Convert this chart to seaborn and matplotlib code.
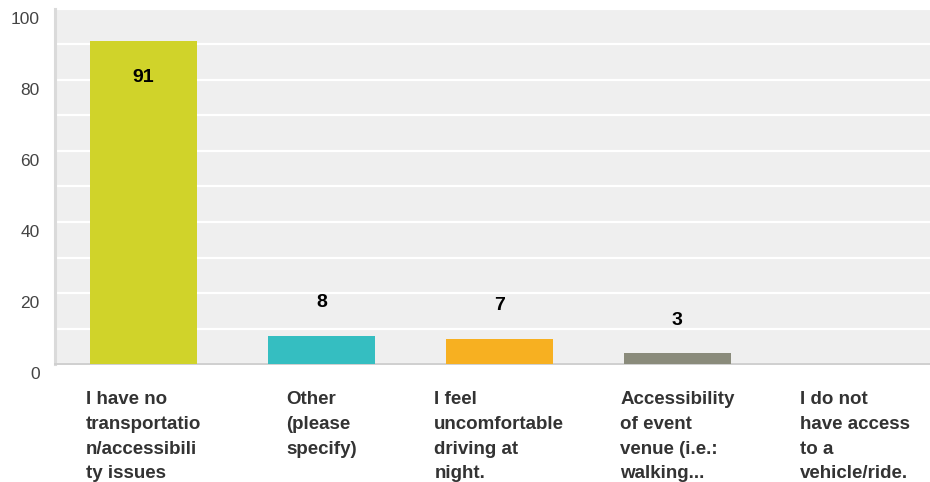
import matplotlib
matplotlib.use("Agg")
import matplotlib.pyplot as plt
import matplotlib.transforms as mtransforms
import seaborn as sns
import pandas as pd

# -------------------------
# Data
# -------------------------
categories = [
    "I have no\ntransportatio\nn/accessibili\nty issues",
    "Other\n(please\nspecify)",
    "I feel\nuncomfortable\ndriving at\nnight.",
    "Accessibility\nof event\nvenue (i.e.:\nwalking...",
    "I do not\nhave access\nto a\nvehicle/ride.",
]
values = [91, 8, 7, 3, 0]
colors = ["#d0d32a", "#35bec1", "#f7b021", "#8a8b7b", "#9a9a9a"]
y_ticks = [0, 20, 40, 60, 80, 100]

df = pd.DataFrame({"category": categories, "value": values})

sns.set_theme(style="white")
plt.rcParams["font.family"] = ["Liberation Sans", "DejaVu Sans"]

fig = plt.figure(figsize=(9.3, 4.82), dpi=100)
ax = fig.add_axes([55 / 930, 118 / 482, 1 - 55 / 930, 355 / 482])
ax.set_facecolor("#efefef")

sns.barplot(data=df, x="category", y="value", hue="category", palette=colors,
            legend=False, width=0.6, saturation=1, linewidth=0, ax=ax, zorder=3)

ax.set_ylim(0, 100)
ax.set_xlim(-0.497, 4.42)
ax.set_yticks(y_ticks)
ax.set_yticks([10, 30, 50, 70, 90], minor=True)
ax.grid(True, axis="y", which="both", color="white", linewidth=1.6, zorder=0)
ax.set_axisbelow(True)

ax.set_xlabel("")
ax.set_ylabel("")

# spines
for s in ["top", "right"]:
    ax.spines[s].set_visible(False)
ax.spines["left"].set_color("#dadada")
ax.spines["left"].set_linewidth(2.2)
ax.spines["bottom"].set_color("#cfcfcf")
ax.spines["bottom"].set_linewidth(1.4)

ax.tick_params(axis="y", which="both", length=0, pad=11, labelsize=12.5, labelcolor="#444444")
ax.tick_params(axis="x", length=0, pad=19.5, labelsize=13.5, labelcolor="#333333")

# y labels sit a little below their gridlines
offset = mtransforms.ScaledTranslation(0, -9 / 100, fig.dpi_scale_trans)
for t in ax.get_yticklabels():
    t.set_transform(t.get_transform() + offset)

for t in ax.get_xticklabels():
    t.set_fontweight("bold")
    t.set_multialignment("left")
    t.set_linespacing(1.6)

# -------------------------
# Value labels
# -------------------------
for i, v in enumerate(values):
    if v == 0:
        continue
    if v + 12 > 100:
        dy = -26
    else:
        dy = 24
    ax.annotate(str(v), xy=(i, v), xytext=(0, dy), textcoords="offset points",
                ha="center", va="center", fontsize=14, fontweight="bold",
                color="black", zorder=5)

fig.savefig("out.png", dpi=100)
